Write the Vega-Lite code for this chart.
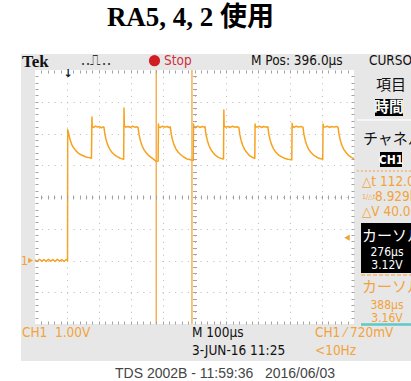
{
  "$schema": "https://vega.github.io/schema/vega-lite/v6.json",
  "width": 319,
  "height": 254,
  "autosize": {"type": "none"},
  "padding": {"left": 35, "top": 70, "right": 57, "bottom": 57},
  "background": "white",
  "title": {
    "text": "RA5, 4, 2 使用",
    "font": "Liberation Serif, Noto Sans CJK JP",
    "fontSize": 27,
    "fontWeight": "bold",
    "color": "#000000",
    "anchor": "middle",
    "frame": "group",
    "baseline": "alphabetic",
    "offset": 0,
    "dx": -4
  },
  "config": {
    "view": {"stroke": null},
    "axis": {"title": null}
  },
  "datasets": {
    "trace": [
      {"t": -104, "v": 0.02}, {"t": -97, "v": -0.03}, {"t": -90, "v": 0.04}, {"t": -83, "v": -0.02},
      {"t": -76, "v": 0.03}, {"t": -69, "v": -0.03}, {"t": -62, "v": 0.04}, {"t": -55, "v": -0.02},
      {"t": -48, "v": 0.03}, {"t": -41, "v": -0.03}, {"t": -34, "v": 0.04}, {"t": -27, "v": -0.02},
      {"t": -20, "v": 0.03}, {"t": -13, "v": -0.03}, {"t": -6, "v": 0.03}, {"t": -2, "v": 0.0},
      {"t": -1.5, "v": 4.12}, {"t": 2, "v": 3.98}, {"t": 6, "v": 3.8}, {"t": 11, "v": 3.66},
      {"t": 17, "v": 3.55}, {"t": 24, "v": 3.46}, {"t": 32, "v": 3.38}, {"t": 40, "v": 3.33},
      {"t": 49, "v": 3.29}, {"t": 58, "v": 3.25}, {"t": 66, "v": 3.24}, {"t": 73, "v": 3.22},
      {"t": 74.5, "v": 4.52}, {"t": 75.5, "v": 4.22}, {"t": 80, "v": 4.19}, {"t": 86, "v": 4.23},
      {"t": 92, "v": 4.2}, {"t": 98, "v": 4.22}, {"t": 104, "v": 4.18}, {"t": 110, "v": 4.21},
      {"t": 112, "v": 4.2}, {"t": 115, "v": 3.98}, {"t": 119, "v": 3.8}, {"t": 124, "v": 3.64},
      {"t": 130, "v": 3.51}, {"t": 137, "v": 3.41}, {"t": 145, "v": 3.33}, {"t": 154, "v": 3.27},
      {"t": 163, "v": 3.22}, {"t": 170, "v": 3.2}, {"t": 174, "v": 3.19},
      {"t": 175, "v": 4.8}, {"t": 176, "v": 4.24}, {"t": 181, "v": 4.2}, {"t": 188, "v": 4.22},
      {"t": 195, "v": 4.19}, {"t": 202, "v": 4.23}, {"t": 209, "v": 4.2}, {"t": 215, "v": 4.21},
      {"t": 219, "v": 4.19}, {"t": 222, "v": 3.97}, {"t": 226, "v": 3.79}, {"t": 231, "v": 3.63},
      {"t": 237, "v": 3.5}, {"t": 244, "v": 3.4}, {"t": 252, "v": 3.31}, {"t": 261, "v": 3.24},
      {"t": 270, "v": 3.17}, {"t": 276, "v": 3.12}, {"t": 282, "v": 3.13},
      {"t": 283, "v": 4.3}, {"t": 284, "v": 4.21}, {"t": 289, "v": 4.19}, {"t": 296, "v": 4.23},
      {"t": 303, "v": 4.2}, {"t": 310, "v": 4.22}, {"t": 316, "v": 4.19}, {"t": 320, "v": 4.21},
      {"t": 323, "v": 3.98}, {"t": 327, "v": 3.8}, {"t": 332, "v": 3.64}, {"t": 338, "v": 3.51},
      {"t": 345, "v": 3.41}, {"t": 353, "v": 3.33}, {"t": 362, "v": 3.26}, {"t": 372, "v": 3.2},
      {"t": 381, "v": 3.18}, {"t": 388, "v": 3.16}, {"t": 392, "v": 3.15},
      {"t": 393, "v": 4.3}, {"t": 394, "v": 4.22}, {"t": 399, "v": 4.2}, {"t": 406, "v": 4.23},
      {"t": 413, "v": 4.19}, {"t": 420, "v": 4.22}, {"t": 426, "v": 4.2}, {"t": 429, "v": 4.21},
      {"t": 432, "v": 3.97}, {"t": 436, "v": 3.79}, {"t": 441, "v": 3.63}, {"t": 447, "v": 3.5},
      {"t": 454, "v": 3.4}, {"t": 462, "v": 3.31}, {"t": 471, "v": 3.25}, {"t": 480, "v": 3.21},
      {"t": 487, "v": 3.2},
      {"t": 488, "v": 4.74}, {"t": 489, "v": 4.23}, {"t": 494, "v": 4.2}, {"t": 501, "v": 4.22},
      {"t": 508, "v": 4.19}, {"t": 515, "v": 4.23}, {"t": 522, "v": 4.2}, {"t": 529, "v": 4.21},
      {"t": 535, "v": 4.19}, {"t": 538, "v": 3.97}, {"t": 542, "v": 3.79}, {"t": 547, "v": 3.63},
      {"t": 553, "v": 3.5}, {"t": 560, "v": 3.4}, {"t": 568, "v": 3.31}, {"t": 577, "v": 3.25},
      {"t": 585, "v": 3.22},
      {"t": 586, "v": 4.3}, {"t": 587, "v": 4.22}, {"t": 592, "v": 4.2}, {"t": 599, "v": 4.23},
      {"t": 606, "v": 4.19}, {"t": 613, "v": 4.22}, {"t": 620, "v": 4.2}, {"t": 626, "v": 4.21},
      {"t": 629, "v": 3.98}, {"t": 633, "v": 3.8}, {"t": 638, "v": 3.64}, {"t": 644, "v": 3.51},
      {"t": 651, "v": 3.41}, {"t": 659, "v": 3.33}, {"t": 668, "v": 3.27}, {"t": 678, "v": 3.22},
      {"t": 689, "v": 3.19}, {"t": 697, "v": 3.18}, {"t": 701, "v": 3.17},
      {"t": 702, "v": 4.32}, {"t": 703, "v": 4.22}, {"t": 708, "v": 4.19}, {"t": 715, "v": 4.23},
      {"t": 722, "v": 4.2}, {"t": 729, "v": 4.22}, {"t": 736, "v": 4.2}, {"t": 739, "v": 3.97},
      {"t": 743, "v": 3.79}, {"t": 748, "v": 3.63}, {"t": 754, "v": 3.5}, {"t": 761, "v": 3.4},
      {"t": 769, "v": 3.32}, {"t": 778, "v": 3.26}, {"t": 787, "v": 3.22}, {"t": 795, "v": 3.2},
      {"t": 798, "v": 3.19},
      {"t": 799, "v": 4.3}, {"t": 800, "v": 4.22}, {"t": 805, "v": 4.2}, {"t": 812, "v": 4.23},
      {"t": 819, "v": 4.19}, {"t": 826, "v": 4.22}, {"t": 833, "v": 4.2}, {"t": 840, "v": 4.22},
      {"t": 846, "v": 4.2}, {"t": 849, "v": 3.97}, {"t": 853, "v": 3.79}, {"t": 858, "v": 3.63},
      {"t": 864, "v": 3.5}, {"t": 871, "v": 3.4}, {"t": 879, "v": 3.31}, {"t": 888, "v": 3.25},
      {"t": 896, "v": 3.21}
    ],
    "cursors": [
      {"cursor": "カーソル1", "t": 276, "v": 3.12},
      {"cursor": "カーソル2", "t": 388, "v": 3.16}
    ]
  },
  "resolve": {"axis": {"x": "independent", "y": "independent"}},
  "layer": [
    {
      "description": "instrument bezel behind the graticule",
      "data": {"values": [{}]},
      "mark": {"type": "rect", "color": "#e7e7e7", "clip": false},
      "encoding": {
        "x": {"datum": -148, "type": "quantitative", "scale": {"domain": [-104, 896], "nice": false, "zero": false},
          "axis": {"orient": "bottom", "offset": -3, "ticks": true, "tickSize": 3, "tickColor": "#a3a3a3", "labels": false, "domain": false, "grid": false, "zindex": 1,
            "values": [-84,-64,-44,-24,-4,16,36,56,76,96,116,136,156,176,196,216,236,256,276,296,316,336,356,376,396,416,436,456,476,496,516,536,556,576,596,616,636,656,676,696,716,736,756,776,796,816,836,856,876]}},
        "x2": {"datum": 1100},
        "y": {"datum": 6.504, "type": "quantitative", "scale": {"domain": [-2, 6], "nice": false, "zero": false},
          "axis": {"orient": "left", "offset": -3, "ticks": true, "tickSize": 3, "tickColor": "#a3a3a3", "labels": false, "domain": false, "grid": false, "zindex": 1,
            "values": [-1.8,-1.6,-1.4,-1.2,-1,-0.8,-0.6,-0.4,-0.2,0,0.2,0.4,0.6,0.8,1,1.2,1.4,1.6,1.8,2,2.2,2.4,2.6,2.8,3,3.2,3.4,3.6,3.8,4,4.2,4.4,4.6,4.8,5,5.2,5.4,5.6,5.8]}},
        "y2": {"datum": -3.165}
      }
    },
    {
      "description": "white screen area",
      "data": {"values": [{}]},
      "mark": {"type": "rect", "color": "#ffffff", "clip": false},
      "encoding": {
        "x": {"datum": -104, "type": "quantitative", "scale": {"domain": [-104, 896], "nice": false, "zero": false},
          "axis": {"orient": "top", "offset": -3, "ticks": true, "tickSize": 3, "tickColor": "#a3a3a3", "labels": false, "domain": false, "grid": false, "zindex": 1,
            "values": [-84,-64,-44,-24,-4,16,36,56,76,96,116,136,156,176,196,216,236,256,276,296,316,336,356,376,396,416,436,456,476,496,516,536,556,576,596,616,636,656,676,696,716,736,756,776,796,816,836,856,876]}},
        "x2": {"datum": 896},
        "y": {"datum": 6, "type": "quantitative", "scale": {"domain": [-2, 6], "nice": false, "zero": false},
          "axis": {"orient": "right", "offset": -3, "ticks": true, "tickSize": 3, "tickColor": "#a3a3a3", "labels": false, "domain": false, "grid": false, "zindex": 1,
            "values": [-1.8,-1.6,-1.4,-1.2,-1,-0.8,-0.6,-0.4,-0.2,0,0.2,0.4,0.6,0.8,1,1.2,1.4,1.6,1.8,2,2.2,2.4,2.6,2.8,3,3.2,3.4,3.6,3.8,4,4.2,4.4,4.6,4.8,5,5.2,5.4,5.6,5.8]}},
        "y2": {"datum": -2}
      }
    },
    {
      "description": "side menu, boxes, separators and read-outs",
      "data": {"values": [{}]},
      "encoding": {
        "x": {"type": "quantitative", "scale": {"domain": [-104, 896], "nice": false, "zero": false}, "axis": null},
        "y": {"type": "quantitative", "scale": {"domain": [-2, 6], "nice": false, "zero": false}, "axis": null}
      },
      "layer": [
        {"mark": {"type": "rect", "color": "#000000", "clip": false},
         "encoding": {"x": {"datum": 961.8}, "x2": {"datum": 1049.6}, "y": {"datum": 5.087}, "y2": {"datum": 4.551}}},
        {"mark": {"type": "rect", "color": "#000000", "clip": false},
         "encoding": {"x": {"datum": 977.5}, "x2": {"datum": 1046.5}, "y": {"datum": 3.417}, "y2": {"datum": 2.945}}},
        {"mark": {"type": "rect", "color": "#000000", "clip": false},
         "encoding": {"x": {"datum": 918}, "x2": {"datum": 1100}, "y": {"datum": 1.181}, "y2": {"datum": -0.394}}},
        {"mark": {"type": "rule", "color": "#fbfbfb", "strokeWidth": 1.5, "clip": false},
         "encoding": {"x": {"datum": 905}, "x2": {"datum": 1100}, "y": {"datum": 4.425}}},
        {"mark": {"type": "rule", "color": "#f2a33a", "strokeWidth": 1.2, "strokeDash": [2, 2], "clip": false},
         "encoding": {"x": {"datum": 905}, "x2": {"datum": 1100}, "y": {"datum": 2.819}}},
        {"mark": {"type": "rule", "color": "#f2a33a", "strokeWidth": 1.2, "strokeDash": [4, 2], "clip": false},
         "encoding": {"x": {"datum": 918}, "x2": {"datum": 1100}, "y": {"datum": -0.457}}},
        {"mark": {"type": "rule", "color": "#5ec9c9", "strokeWidth": 2.5, "clip": false},
         "encoding": {"x": {"datum": 918}, "x2": {"datum": 1100}, "y": {"datum": -2.016}}},

        {"mark": {"type": "text", "font": "Liberation Serif", "fontSize": 17, "fontWeight": "bold", "color": "#111111", "align": "left", "baseline": "middle", "clip": false},
         "encoding": {"x": {"datum": -144.8}, "y": {"datum": 6.26}, "text": {"value": "Tek"}}},
        {"mark": {"type": "text", "font": "DejaVu Sans", "fontSize": 15, "color": "#333333", "align": "center", "baseline": "middle", "clip": false},
         "encoding": {"x": {"datum": 87}, "y": {"datum": 6.3}, "text": {"value": "‥⎍‥"}}},
        {"mark": {"type": "point", "shape": "circle", "filled": true, "color": "#d21d22", "size": 125, "opacity": 1, "clip": false},
         "encoding": {"x": {"datum": 270.6}, "y": {"datum": 6.293}}},
        {"mark": {"type": "text", "font": "Liberation Sans Narrow, DejaVu Sans Condensed, sans-serif", "fontSize": 13.5, "color": "#cf2f3a", "align": "left", "baseline": "middle", "clip": false},
         "encoding": {"x": {"datum": 300.4}, "y": {"datum": 6.283}, "text": {"value": "Stop"}}},
        {"mark": {"type": "text", "font": "Liberation Sans Narrow, DejaVu Sans Condensed, sans-serif", "fontSize": 13.5, "color": "#111111", "align": "left", "baseline": "middle", "clip": false},
         "encoding": {"x": {"datum": 573}, "y": {"datum": 6.283}, "text": {"value": "M Pos: 396.0µs"}}},
        {"mark": {"type": "text", "font": "Liberation Sans Narrow, DejaVu Sans Condensed, sans-serif", "fontSize": 13.5, "color": "#111111", "align": "left", "baseline": "middle", "clip": false},
         "encoding": {"x": {"datum": 943}, "y": {"datum": 6.283}, "text": {"value": "CURSOR"}}},

        {"mark": {"type": "text", "font": "Noto Sans CJK JP", "fontSize": 15, "color": "#111111", "align": "center", "baseline": "middle", "clip": false},
         "encoding": {"x": {"datum": 1012}, "y": {"datum": 5.528}, "text": {"value": "項目"}}},
        {"mark": {"type": "text", "font": "Noto Sans CJK JP", "fontSize": 15, "fontWeight": "bold", "color": "#ffffff", "align": "center", "baseline": "middle", "clip": false},
         "encoding": {"x": {"datum": 1005.7}, "y": {"datum": 4.819}, "text": {"value": "時間"}}},
        {"mark": {"type": "text", "font": "Noto Sans CJK JP", "fontSize": 15, "color": "#111111", "align": "left", "baseline": "middle", "clip": false},
         "encoding": {"x": {"datum": 924}, "y": {"datum": 3.827}, "text": {"value": "チャネル"}}},
        {"mark": {"type": "text", "font": "Liberation Sans Narrow, DejaVu Sans Condensed, sans-serif", "fontSize": 12, "fontWeight": "bold", "color": "#ffffff", "align": "center", "baseline": "middle", "clip": false},
         "encoding": {"x": {"datum": 1012}, "y": {"datum": 3.181}, "text": {"value": "CH1"}}},
        {"mark": {"type": "text", "font": "Liberation Sans Narrow, DejaVu Sans Condensed, sans-serif", "fontSize": 13.5, "color": "#f2a33a", "align": "left", "baseline": "middle", "clip": false},
         "encoding": {"x": {"datum": 921}, "y": {"datum": 2.472}, "text": {"value": "△t 112.0µs"}}},
        {"mark": {"type": "text", "font": "Liberation Sans Narrow, DejaVu Sans Condensed, sans-serif", "fontSize": 7, "color": "#f2a33a", "align": "left", "baseline": "middle", "clip": false},
         "encoding": {"x": {"datum": 921}, "y": {"datum": 2.0}, "text": {"value": "1/△t"}}},
        {"mark": {"type": "text", "font": "Liberation Sans Narrow, DejaVu Sans Condensed, sans-serif", "fontSize": 13.5, "color": "#f2a33a", "align": "left", "baseline": "middle", "clip": false},
         "encoding": {"x": {"datum": 962}, "y": {"datum": 2.0}, "text": {"value": "8.929kHz"}}},
        {"mark": {"type": "text", "font": "Liberation Sans Narrow, DejaVu Sans Condensed, sans-serif", "fontSize": 13.5, "color": "#f2a33a", "align": "left", "baseline": "middle", "clip": false},
         "encoding": {"x": {"datum": 921}, "y": {"datum": 1.528}, "text": {"value": "△V 40.0mV"}}},
        {"mark": {"type": "text", "font": "Noto Sans CJK JP", "fontSize": 15, "color": "#ffffff", "align": "left", "baseline": "middle", "clip": false},
         "encoding": {"x": {"datum": 921}, "y": {"datum": 0.772}, "text": {"value": "カーソル1"}}},
        {"mark": {"type": "text", "font": "Liberation Sans Narrow, DejaVu Sans Condensed, sans-serif", "fontSize": 12, "color": "#ffffff", "align": "center", "baseline": "middle", "clip": false},
         "encoding": {"x": {"datum": 999.5}, "y": {"datum": 0.28}, "text": {"value": "276µs"}}},
        {"mark": {"type": "text", "font": "Liberation Sans Narrow, DejaVu Sans Condensed, sans-serif", "fontSize": 12, "color": "#ffffff", "align": "center", "baseline": "middle", "clip": false},
         "encoding": {"x": {"datum": 999.5}, "y": {"datum": -0.15}, "text": {"value": "3.12V"}}},
        {"mark": {"type": "text", "font": "Noto Sans CJK JP", "fontSize": 15, "color": "#f2a33a", "align": "left", "baseline": "middle", "clip": false},
         "encoding": {"x": {"datum": 921}, "y": {"datum": -0.835}, "text": {"value": "カーソル2"}}},
        {"mark": {"type": "text", "font": "Liberation Sans Narrow, DejaVu Sans Condensed, sans-serif", "fontSize": 12, "color": "#f2a33a", "align": "center", "baseline": "middle", "clip": false},
         "encoding": {"x": {"datum": 999.5}, "y": {"datum": -1.39}, "text": {"value": "388µs"}}},
        {"mark": {"type": "text", "font": "Liberation Sans Narrow, DejaVu Sans Condensed, sans-serif", "fontSize": 12, "color": "#f2a33a", "align": "center", "baseline": "middle", "clip": false},
         "encoding": {"x": {"datum": 999.5}, "y": {"datum": -1.81}, "text": {"value": "3.16V"}}},

        {"mark": {"type": "text", "font": "Liberation Sans Narrow, DejaVu Sans Condensed, sans-serif", "fontSize": 13.5, "color": "#f2a33a", "align": "left", "baseline": "middle", "clip": false},
         "encoding": {"x": {"datum": -144.8}, "y": {"datum": -2.299}, "text": {"value": "CH1\u00a0\u00a01.00V"}}},
        {"mark": {"type": "text", "font": "Liberation Sans Narrow, DejaVu Sans Condensed, sans-serif", "fontSize": 13.5, "color": "#111111", "align": "left", "baseline": "middle", "clip": false},
         "encoding": {"x": {"datum": 388.2}, "y": {"datum": -2.299}, "text": {"value": "M 100µs"}}},
        {"mark": {"type": "text", "font": "Liberation Sans Narrow, DejaVu Sans Condensed, sans-serif", "fontSize": 13.5, "color": "#f2a33a", "align": "left", "baseline": "middle", "clip": false},
         "encoding": {"x": {"datum": 773.7}, "y": {"datum": -2.299}, "text": {"value": "CH1 ⁄ 720mV"}}},
        {"mark": {"type": "text", "font": "Liberation Sans Narrow, DejaVu Sans Condensed, sans-serif", "fontSize": 13.5, "color": "#111111", "align": "left", "baseline": "middle", "clip": false},
         "encoding": {"x": {"datum": 388.2}, "y": {"datum": -2.85}, "text": {"value": "3-JUN-16 11:25"}}},
        {"mark": {"type": "text", "font": "Liberation Sans Narrow, DejaVu Sans Condensed, sans-serif", "fontSize": 13.5, "color": "#f2a33a", "align": "left", "baseline": "middle", "clip": false},
         "encoding": {"x": {"datum": 773.7}, "y": {"datum": -2.85}, "text": {"value": "<10Hz"}}},
        {"mark": {"type": "text", "font": "Liberation Sans, Arial, sans-serif", "fontSize": 14, "color": "#454545", "align": "center", "baseline": "middle", "clip": false},
         "encoding": {"x": {"datum": 491.6}, "y": {"datum": -3.575}, "text": {"value": "TDS 2002B - 11:59:36\u00a0\u00a0\u00a02016/06/03"}}},

        {"mark": {"type": "text", "font": "Liberation Sans Narrow, DejaVu Sans Condensed, sans-serif", "fontSize": 13, "color": "#f2a33a", "align": "center", "baseline": "middle", "clip": false},
         "encoding": {"x": {"datum": -137}, "y": {"datum": 0}, "text": {"value": "1"}}},
        {"mark": {"type": "point", "shape": "triangle-right", "filled": true, "color": "#f2a33a", "size": 30, "opacity": 1, "clip": false},
         "encoding": {"x": {"datum": -118}, "y": {"datum": 0}}},
        {"mark": {"type": "text", "font": "DejaVu Sans", "fontSize": 11, "fontWeight": "bold", "color": "#111111", "align": "center", "baseline": "middle", "clip": false},
         "encoding": {"x": {"datum": 0}, "y": {"datum": 5.86}, "text": {"value": "↓"}}}
      ]
    },
    {
      "description": "CH1 waveform",
      "data": {"name": "trace"},
      "mark": {"type": "line", "color": "#f8a21c", "strokeWidth": 1.5, "strokeJoin": "round"},
      "encoding": {
        "x": {"field": "t", "type": "quantitative", "scale": {"domain": [-104, 896], "nice": false, "zero": false},
          "axis": {"orient": "bottom", "grid": true, "gridColor": "#b8b8b8", "gridDash": [1, 5.35], "gridWidth": 1, "ticks": false, "labels": false, "domain": false, "zindex": 1,
            "values": [-4, 96, 196, 296, 396, 496, 596, 696, 796]}},
        "y": {"field": "v", "type": "quantitative", "scale": {"domain": [-2, 6], "nice": false, "zero": false},
          "axis": {"orient": "left", "grid": true, "gridColor": "#b8b8b8", "gridDash": [1, 5.35], "gridWidth": 1, "ticks": false, "labels": false, "domain": false, "zindex": 1,
            "values": [-1, 0, 1, 2, 3, 4, 5]}}
      }
    },
    {
      "description": "time cursors",
      "data": {"name": "cursors"},
      "mark": {"type": "rule", "color": "#f5a43c", "strokeWidth": 1.3},
      "encoding": {
        "x": {"field": "t", "type": "quantitative", "scale": {"domain": [-104, 896], "nice": false, "zero": false},
          "axis": {"orient": "bottom", "offset": -129, "ticks": true, "tickSize": 4, "tickColor": "#a3a3a3", "labels": false, "domain": false, "grid": false, "zindex": 1,
            "values": [-84,-64,-44,-24,-4,16,36,56,76,96,116,136,156,176,196,216,236,256,276,296,316,336,356,376,396,416,436,456,476,496,516,536,556,576,596,616,636,656,676,696,716,736,756,776,796,816,836,856,876]}}
      }
    },
    {
      "description": "trigger level marker (720 mV)",
      "data": {"values": [{}]},
      "mark": {"type": "point", "shape": "triangle-left", "filled": true, "color": "#f2a33a", "size": 40, "opacity": 1, "clip": false},
      "encoding": {
        "x": {"datum": 874, "type": "quantitative", "scale": {"domain": [-104, 896], "nice": false, "zero": false}, "axis": null},
        "y": {"datum": 0.72, "type": "quantitative", "scale": {"domain": [-2, 6], "nice": false, "zero": false},
          "axis": {"orient": "left", "offset": -161.5, "ticks": true, "tickSize": 4, "tickColor": "#a3a3a3", "labels": false, "domain": false, "grid": false, "zindex": 1,
            "values": [-1.8,-1.6,-1.4,-1.2,-1,-0.8,-0.6,-0.4,-0.2,0,0.2,0.4,0.6,0.8,1,1.2,1.4,1.6,1.8,2,2.2,2.4,2.6,2.8,3,3.2,3.4,3.6,3.8,4,4.2,4.4,4.6,4.8,5,5.2,5.4,5.6,5.8]}}
      }
    }
  ]
}
